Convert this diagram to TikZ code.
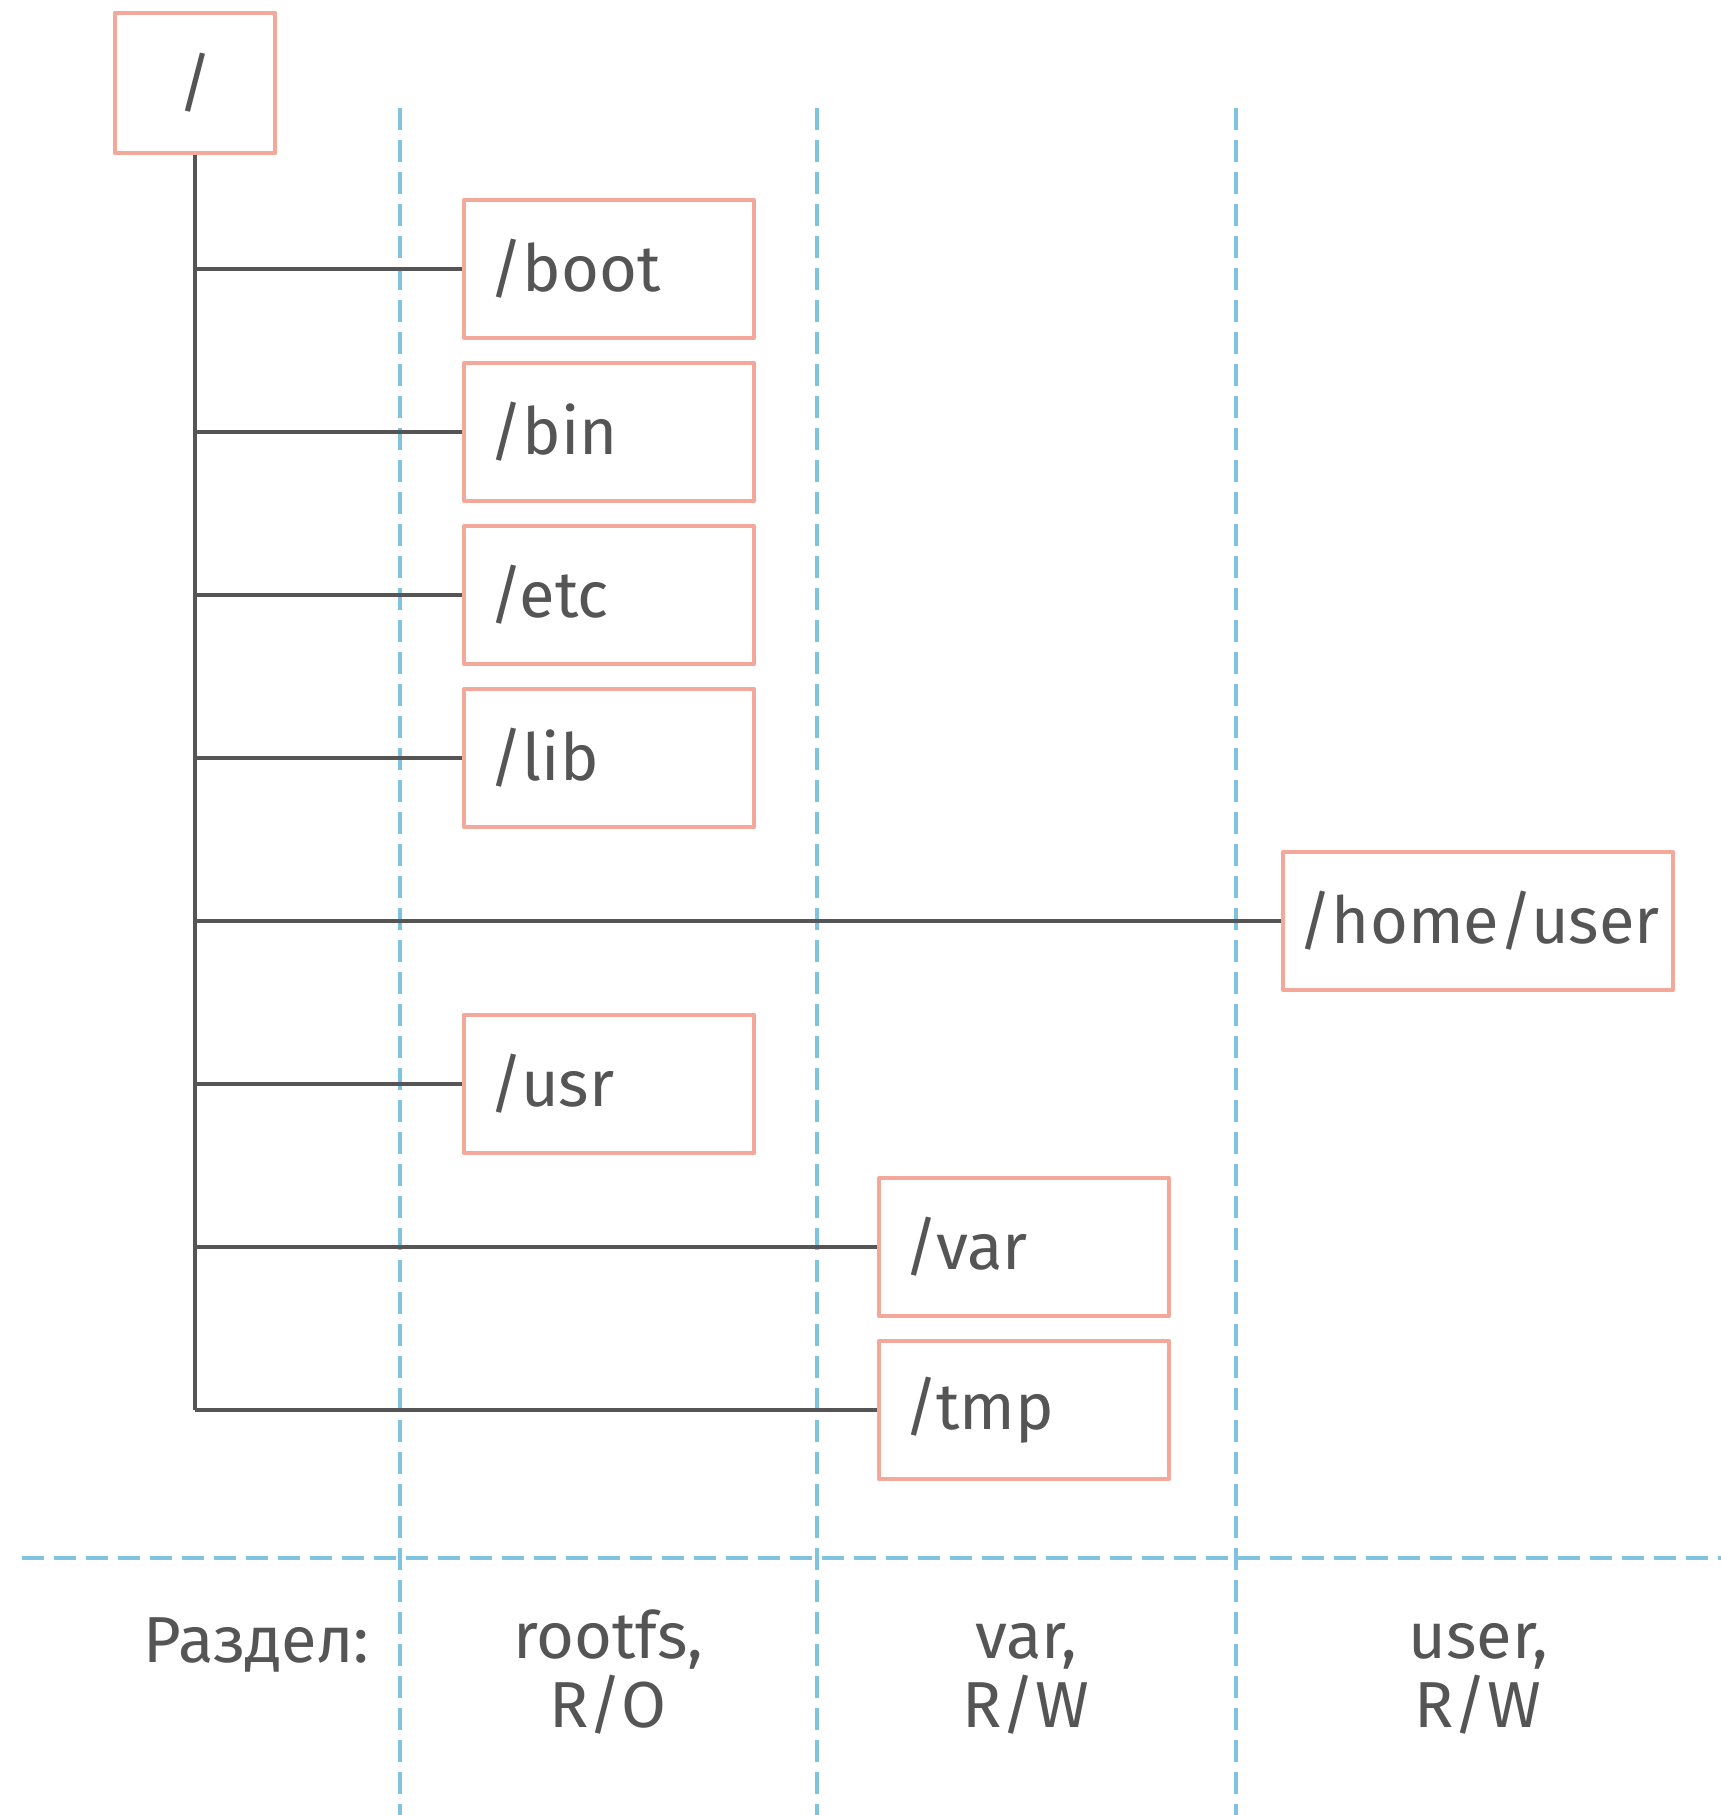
\documentclass[tikz,border=0pt]{standalone}
\usepackage{fontspec}
\setmainfont{Fira Sans}
\definecolor{boxred}{HTML}{F4A899}
\definecolor{partblue}{HTML}{7EC4E1}
\definecolor{inkgray}{HTML}{555555}
\begin{document}
\begin{tikzpicture}[x=1cm,y=-1cm,line join=round,font=\fontsize{18.5}{18.5}\selectfont,text=inkgray]
			\tikzset{dirbox/.style={draw=boxred,line width=1.2pt,minimum height=1.38cm,text width=2.4cm,inner xsep=0.25cm,align=left,anchor=west},
				tree/.style={draw=inkgray,line width=1.2pt},
				part/.style={draw=partblue,line width=1.2pt,dash pattern=on 0.22cm off 0.1cm},
				partlabel/.style={align=center,anchor=base,inner sep=0pt,font=\fontsize{18.5}{19.5}\selectfont}}
			\useasboundingbox (0,0) rectangle (17.21,18.15);
			% partitions
			\foreach \x in {4.00,8.17,12.36}
			\draw[part] (\x,1.08)--(\x,18.15);
			\draw[part] (0.22,15.58)--(17.21,15.58);
			% directories
			\node[draw=boxred,line width=1.2pt,minimum width=1.6cm,minimum height=1.4cm] (root) at (1.95,0.83) {/};
			\foreach \name/\y in {boot/2.69,bin/4.32,etc/5.95,lib/7.58,usr/10.84}
			\node[dirbox] (\name) at (4.62,\y) {/\name};
			\foreach \name/\y in {var/12.47,tmp/14.10}
			\node[dirbox] (\name) at (8.77,\y) {/\name};
			\node[dirbox,text width=3.6cm,inner xsep=0.15cm] (home) at (12.81,9.21) {/home/user};
			\draw[tree] (root.south)--(tmp.west -| root.south);
			\foreach \name in {boot,bin,etc,lib,home,usr,var,tmp}
			\draw[tree] (\name.west -| root.south)--(\name.west);
			% labels
			\node[anchor=base east,inner sep=0pt] (partname) at (3.70,16.62) {Раздел:};
			\node[partlabel] (rootfs) at (6.08,17.27) {rootfs,\\R/O};
			\node[partlabel] (varpart) at (10.26,17.27) {var,\\R/W};
			\node[partlabel] (userpart) at (14.78,17.27) {user,\\R/W};
		\end{tikzpicture}
\end{document}
